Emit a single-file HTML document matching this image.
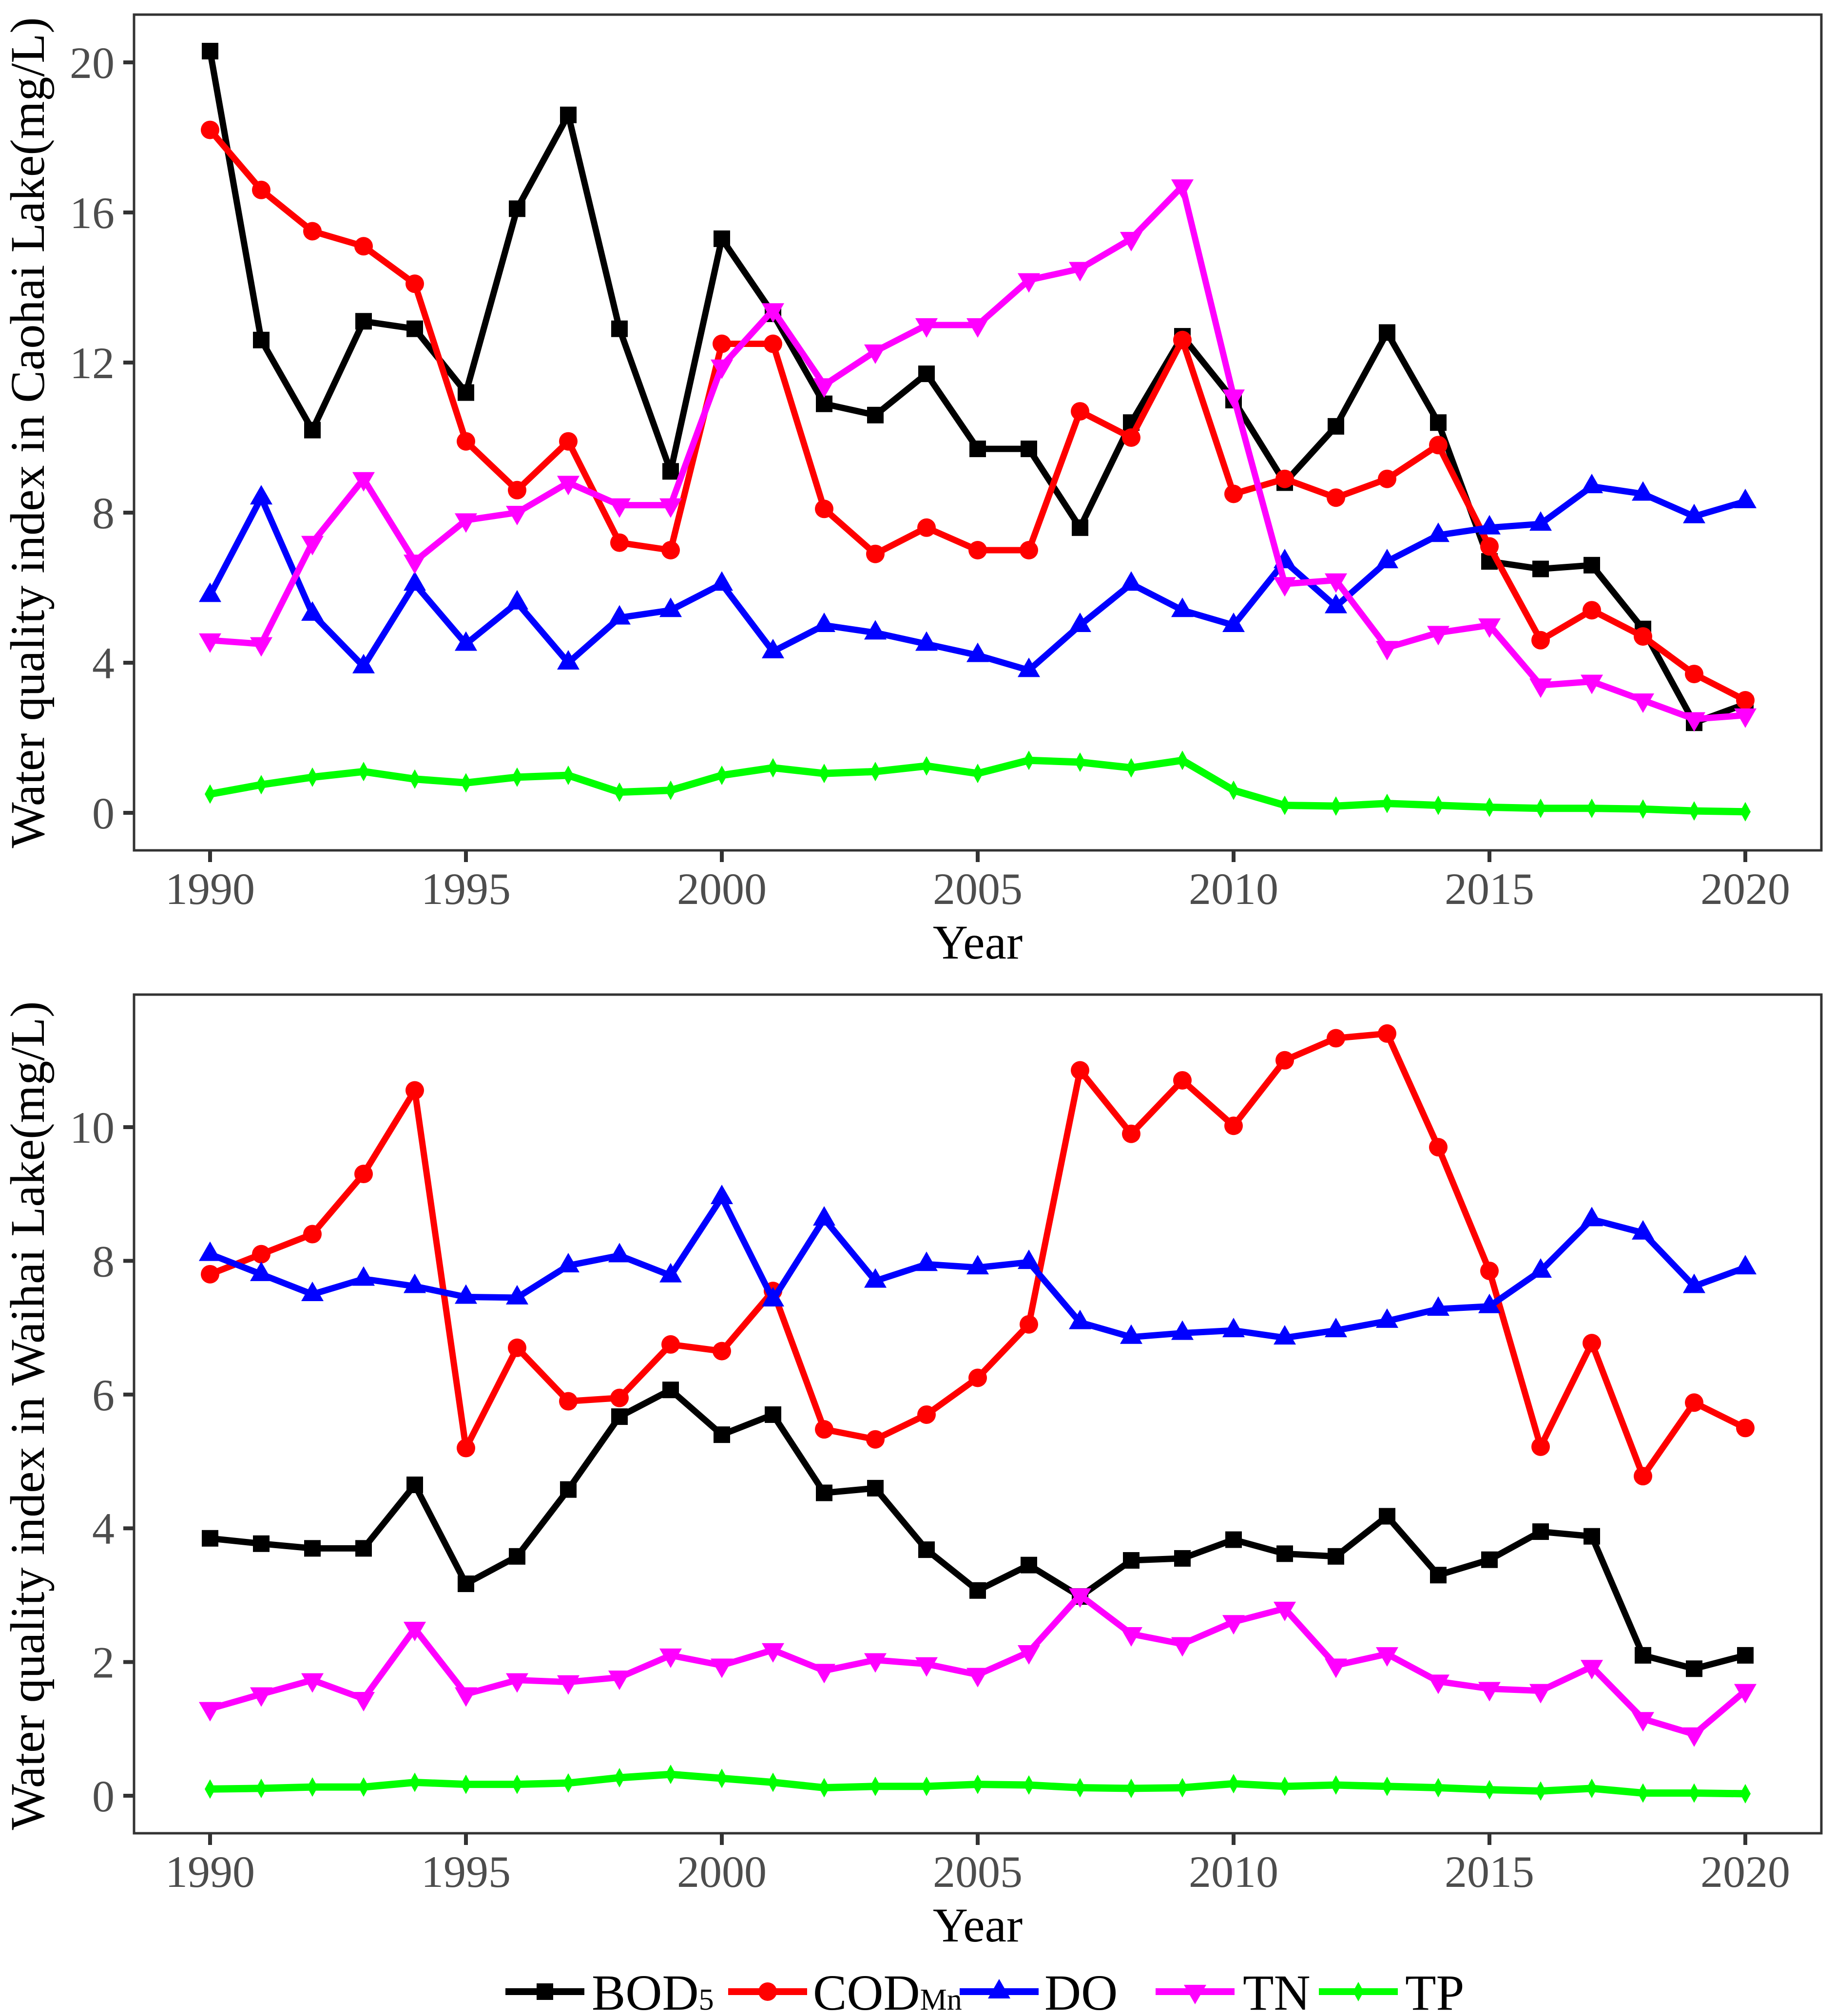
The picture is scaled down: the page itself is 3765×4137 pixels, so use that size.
<!DOCTYPE html>
<html><head><meta charset="utf-8">
<style>
html,body{margin:0;padding:0;background:#fff;}
svg{display:block;font-family:"Liberation Serif","Times New Roman",serif;}
</style></head>
<body>
<svg id="chart" width="3765" height="4137" viewBox="0 0 3765 4137" xmlns="http://www.w3.org/2000/svg">
<rect x="0" y="0" width="3765" height="4137" fill="#fff"/>
</svg>
<script>
const years = [1990,1991,1992,1993,1994,1995,1996,1997,1998,1999,2000,2001,2002,2003,2004,2005,2006,2007,2008,2009,2010,2011,2012,2013,2014,2015,2016,2017,2018,2019,2020];
const xTicks = [1990,1995,2000,2005,2010,2015,2020];
const caohaiYTicks = [0,4,8,12,16,20];
const waihaiYTicks = [0,2,4,6,8,10];
const seriesNames = ["BOD5","CODMn","DO","TN","TP"];
const caohaiBOD = [20.3,12.6,10.2,13.1,12.9,11.2,16.1,18.6,12.9,9.1,15.3,13.3,10.9,10.6,11.7,9.7,9.7,7.6,10.4,12.7,11.0,8.8,10.3,12.8,10.4,6.7,6.5,6.6,4.9,2.4,2.9];
const caohaiCOD = [18.2,16.6,15.5,15.1,14.1,9.9,8.6,9.9,7.2,7.0,12.5,12.5,8.1,6.9,7.6,7.0,7.0,10.7,10.0,12.6,8.5,8.9,8.4,8.9,9.8,7.1,4.6,5.4,4.7,3.7,3.0];
const caohaiDO = [5.8,8.4,5.3,3.9,6.1,4.5,5.6,4.0,5.2,5.4,6.1,4.3,5.0,4.8,4.5,4.2,3.8,5.0,6.1,5.4,5.0,6.7,5.5,6.7,7.4,7.6,7.7,8.7,8.5,7.9,8.3];
const caohaiTN = [4.6,4.5,7.2,8.9,6.7,7.8,8.0,8.8,8.2,8.2,11.9,13.4,11.4,12.3,13.0,13.0,14.2,14.5,15.3,16.7,11.1,6.1,6.2,4.4,4.8,5.0,3.4,3.5,3.0,2.5,2.6];
const caohaiTP = [0.5,0.75,0.95,1.1,0.9,0.8,0.95,1.0,0.55,0.6,1.0,1.2,1.05,1.1,1.25,1.05,1.4,1.35,1.2,1.4,0.6,0.2,0.18,0.25,0.2,0.15,0.12,0.12,0.1,0.05,0.03];
const waihaiBOD = [3.85,3.77,3.7,3.7,4.65,3.17,3.58,4.58,5.67,6.07,5.4,5.7,4.53,4.6,3.68,3.07,3.45,2.98,3.52,3.55,3.83,3.62,3.58,4.18,3.3,3.53,3.95,3.88,2.1,1.9,2.1];
const waihaiCOD = [7.8,8.1,8.4,9.3,10.55,5.2,6.7,5.9,5.95,6.75,6.65,7.55,5.48,5.33,5.7,6.25,7.05,10.85,9.9,10.7,10.02,11.0,11.33,11.4,9.7,7.85,5.22,6.77,4.78,5.88,5.5];
const waihaiDO = [8.1,7.8,7.5,7.73,7.62,7.46,7.45,7.93,8.08,7.78,8.95,7.42,8.63,7.7,7.95,7.9,7.98,7.08,6.86,6.92,6.96,6.85,6.96,7.1,7.28,7.32,7.85,8.62,8.42,7.62,7.9];
const waihaiTN = [1.3,1.52,1.73,1.45,2.5,1.52,1.73,1.7,1.77,2.1,1.95,2.18,1.87,2.03,1.97,1.81,2.15,3.0,2.42,2.27,2.6,2.8,1.95,2.12,1.71,1.6,1.57,1.93,1.15,0.92,1.57];
const waihaiTP = [0.1,0.11,0.13,0.13,0.2,0.17,0.17,0.19,0.27,0.32,0.26,0.2,0.12,0.14,0.14,0.17,0.16,0.12,0.11,0.12,0.18,0.14,0.16,0.14,0.12,0.09,0.07,0.11,0.04,0.04,0.03];

const NS = "http://www.w3.org/2000/svg";
const svg = document.getElementById("chart");
const colors = ["#000000","#ff0000","#0000ff","#ff00ff","#00ff00"];
const shapes = ["square","circle","triangle","down","diamond"];
function mk(tag, attrs, parent){const e=document.createElementNS(NS,tag);for(const k in attrs)e.setAttribute(k,attrs[k]);(parent||svg).appendChild(e);return e;}
const xScale = y => 431 + (y-1990)*105;

function marker(g, shape, cx, cy, color){
  let e;
  if(shape==="square") e=mk("rect",{x:cx-17,y:cy-17,width:34,height:34,fill:color},g);
  else if(shape==="circle") e=mk("circle",{cx:cx,cy:cy,r:19,fill:color},g);
  else if(shape==="triangle") e=mk("polygon",{points:`${cx},${cy-26} ${cx-23},${cy+14} ${cx+23},${cy+14}`,fill:color},g);
  else if(shape==="down") e=mk("polygon",{points:`${cx},${cy+26} ${cx-23},${cy-14} ${cx+23},${cy-14}`,fill:color},g);
  else e=mk("polygon",{points:`${cx},${cy-20} ${cx-11},${cy} ${cx},${cy+20} ${cx+11},${cy}`,fill:color},g);
  return e;
}

function panel(id, top, bottom, y0px, pxPerUnit, yTicks, data, title, titleY){
  const yScale = v => y0px - v*pxPerUnit;
  const g = mk("g",{});
  
  
  const frame = mk("rect",{x:275,y:top,width:3737-275,height:bottom-top,fill:"none",stroke:"#333",'stroke-width':5},g);
  
  
  yTicks.forEach(t=>{
    const yy=yScale(t);
    const tk=mk("line",{x1:253,x2:275,y1:yy,y2:yy,stroke:"#333",'stroke-width':8},g);
    
    
    const tx=mk("text",{x:235,y:yy+32,'text-anchor':"end",'font-size':92,fill:"#4d4d4d"},g);
    tx.textContent=t;
    
    
  });
  xTicks.forEach(t=>{
    const xx=xScale(t);
    const tk=mk("line",{x1:xx,x2:xx,y1:bottom,y2:bottom+24,stroke:"#333",'stroke-width':8},g);
    
    
    const tx=mk("text",{x:xx,y:bottom+110,'text-anchor':"middle",'font-size':92,fill:"#4d4d4d"},g);
    tx.textContent=t;
    
    
  });
  const xt=mk("text",{x:2006,y:bottom+222,'text-anchor':"middle",'font-size':100,fill:"#000"},g);
  xt.textContent="Year";
  
  
  const yt=mk("text",{x:0,y:0,'text-anchor':"middle",'font-size':100,fill:"#000",transform:`translate(90,${titleY}) rotate(-90)`},g);
  yt.textContent=title;
  
  
  data.forEach((vals,si)=>{
    const sg=mk("g",{},g);
    
    
    const pts=vals.map((v,i)=>xScale(years[i])+","+yScale(v)).join(" ");
    const pl=mk("polyline",{points:pts,fill:"none",stroke:colors[si],'stroke-width':si===4?15:13,'stroke-linejoin':"round"},sg);
    
    
    vals.forEach((v,i)=>{
      const m=marker(sg,shapes[si],xScale(years[i]),yScale(v),colors[si]);
      
      
    });
  });
}
panel("caohai",30,1745,1668,77,caohaiYTicks,[caohaiBOD,caohaiCOD,caohaiDO,caohaiTN,caohaiTP],"Water quality index in Caohai Lake(mg/L)",888);
panel("waihai",2041,3762,3685,137.2,waihaiYTicks,[waihaiBOD,waihaiCOD,waihaiDO,waihaiTN,waihaiTP],"Water quality index in Waihai Lake(mg/L)",2905);

// legend
const lg=mk("g",{});


const legX=[[1037,1214],[1494,1668],[1969,2143],[2371,2550],[2706,2883]];
const legLabels=[["BOD","5"],["COD","Mn"],["DO",""],["TN",""],["TP",""]];
const ly=4087;
legLabels.forEach((lab,i)=>{
  const eg=mk("g",{},lg);
  
  
  mk("line",{x1:legX[i][0],x2:legX[i][0]+162,y1:ly,y2:ly,stroke:colors[i],'stroke-width':14},eg);
  marker(eg,shapes[i],legX[i][0]+81,ly,colors[i]);
  const t=mk("text",{x:legX[i][1],y:ly+37,'font-size':104,fill:"#000"},eg);
  t.textContent=lab[0];
  if(lab[1]){const s=mk("tspan",{'font-size':62},t);s.textContent=lab[1];}
});
</script>
</body></html>
